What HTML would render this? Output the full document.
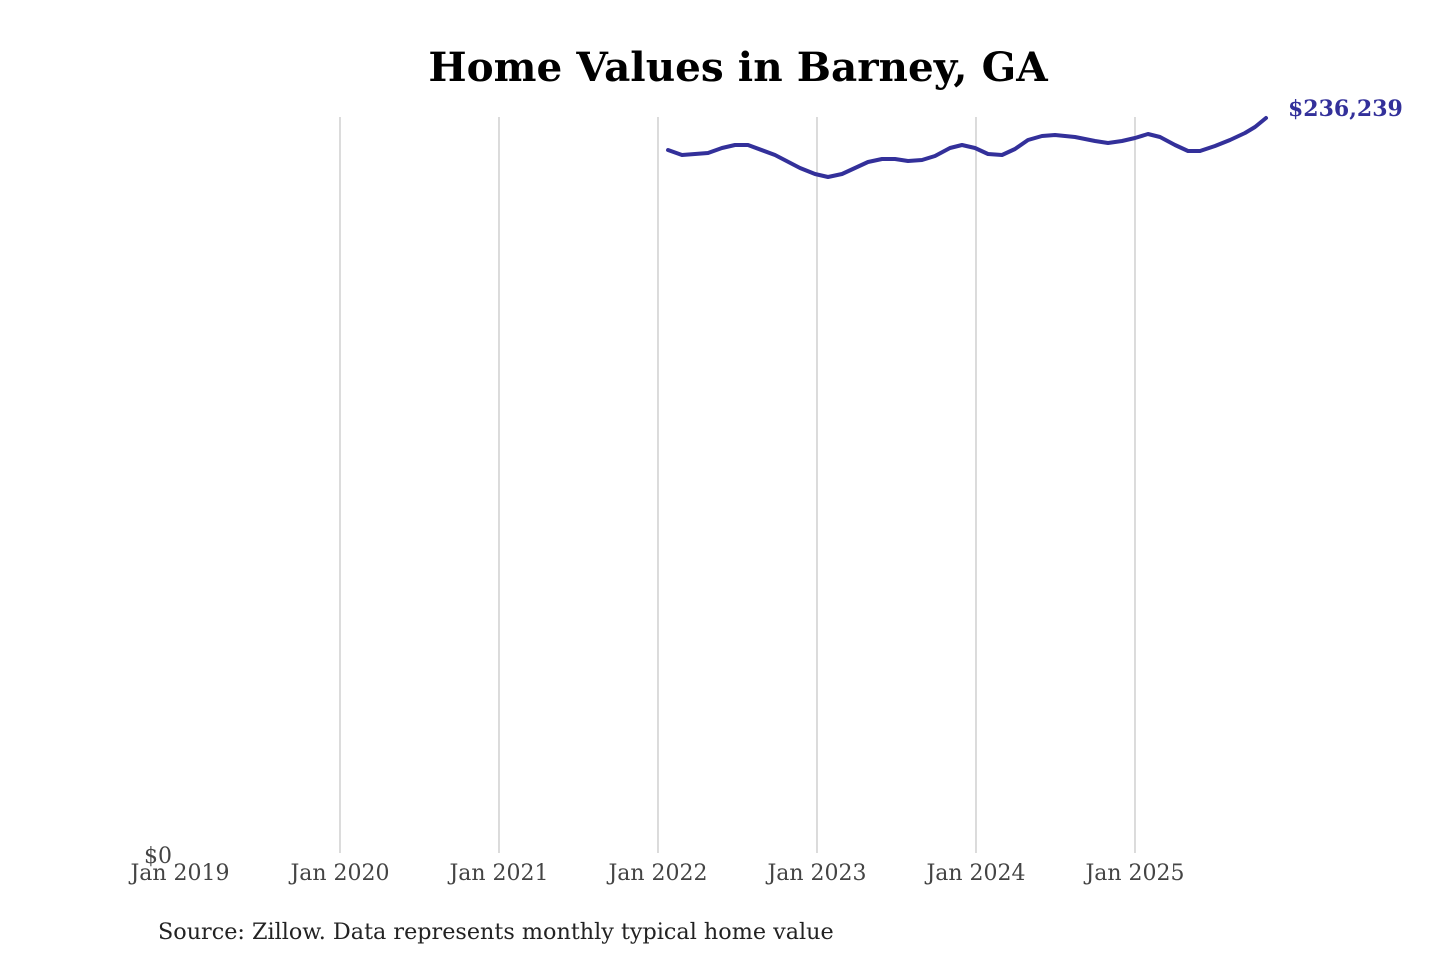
<!DOCTYPE html>
<html><head><meta charset="utf-8"><style>
html,body{margin:0;padding:0;background:#fff;}
svg{display:block}
</style></head><body>
<svg width="1440" height="960" viewBox="0 0 1440 960" xmlns="http://www.w3.org/2000/svg">
<rect width="1440" height="960" fill="#fff"/>
<text x="738" y="81" text-anchor="middle" font-family="DejaVu Serif, Liberation Serif, serif" font-weight="bold" font-size="40.5" fill="#000">Home Values in Barney, GA</text>
<g stroke="#c8c8c8" stroke-width="1.3">
<line x1="340" y1="117" x2="340" y2="853"/>
<line x1="499" y1="117" x2="499" y2="853"/>
<line x1="658" y1="117" x2="658" y2="853"/>
<line x1="817" y1="117" x2="817" y2="853"/>
<line x1="976" y1="117" x2="976" y2="853"/>
<line x1="1135" y1="117" x2="1135" y2="853"/>
</g>
<polyline fill="none" stroke="#33309a" stroke-width="4" stroke-linejoin="round" stroke-linecap="round" points="668,150 682,155 708,153 722,148 735,145 748,145 775,155 800,168 815,174 828,177 842,174 868,162 882,159 895,159 908,161 922,160 935,156 950,148 962,145 975,148 988,154 1002,155 1015,149 1028,140 1042,136 1055,135 1075,137 1095,141 1108,143 1122,141 1135,138 1148,134 1160,137 1175,145 1188,151 1200,151 1215,146 1230,140 1245,133 1255,127 1266,118"/>
<text x="1288" y="116" font-family="DejaVu Serif, Liberation Serif, serif" font-weight="bold" font-size="22" fill="#33309a">$236,239</text>
<g font-family="DejaVu Serif, Liberation Serif, serif" font-size="22" fill="#444" text-anchor="middle">
<text x="158" y="863">$0</text>
<text x="180" y="880">Jan 2019</text>
<text x="340" y="880">Jan 2020</text>
<text x="499" y="880">Jan 2021</text>
<text x="658" y="880">Jan 2022</text>
<text x="817" y="880">Jan 2023</text>
<text x="976" y="880">Jan 2024</text>
<text x="1135" y="880">Jan 2025</text>
</g>
<text x="158" y="939" font-family="DejaVu Serif, Liberation Serif, serif" font-size="22.3" fill="#222">Source: Zillow. Data represents monthly typical home value</text>
</svg>
</body></html>
